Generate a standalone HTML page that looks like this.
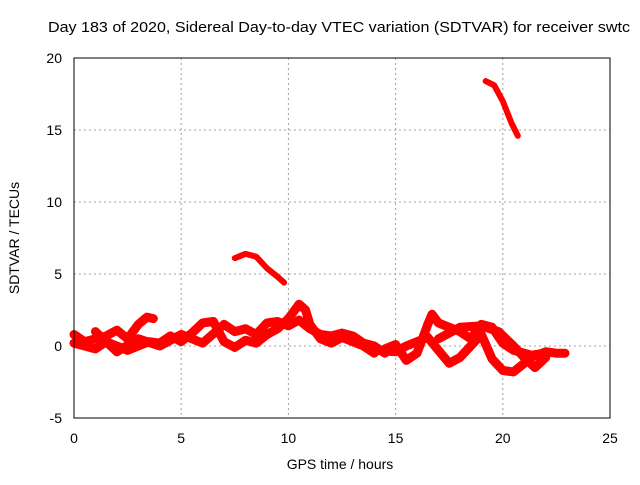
<!DOCTYPE html>
<html><head><meta charset="utf-8"><style>
html,body{margin:0;padding:0;background:#fff}
svg text{font-family:"Liberation Sans",sans-serif;font-size:14px;fill:#000}
</style></head><body>
<svg id="chart" width="640" height="480" viewBox="0 0 640 480" xmlns="http://www.w3.org/2000/svg">
<text x="48" y="32" style="font-size:15px" textLength="582" lengthAdjust="spacingAndGlyphs">Day 183 of 2020, Sidereal Day-to-day VTEC variation (SDTVAR) for receiver swtc</text>
<g id="grid"></g>
<g id="ticks"></g>
<g id="series"></g>
<rect x="74" y="58" width="536" height="360" fill="none" stroke="#000" stroke-width="1"/>
<text x="340" y="469" text-anchor="middle">GPS time / hours</text>
<text transform="translate(19,238) rotate(-90)" text-anchor="middle">SDTVAR / TECUs</text>
</svg>
<script>
const xTicks=[0,5,10,15,20,25];
const yTicks=[-5,0,5,10,15,20];
const series1=[[0,0.8],[0.5,0.3],[1,0.5],[1.5,0.7],[2,1.1],[2.5,0.5],[3,1.5],[3.4,2.0],[3.7,1.9]];
const series2=[[0,0.2],[0.5,0],[1,-0.2],[1.5,0.3],[2,0],[2.5,-0.3],[3,0],[3.5,0.3],[4,0.2],[4.5,0.7],[5,0.3],[5.5,0.9],[6,1.6],[6.5,1.7],[7,0.3],[7.5,-0.1],[8,0.4],[8.5,0.2],[9,0.8],[9.5,1.2],[10,1.9],[10.5,2.9],[10.8,2.5],[11,1.5],[11.5,0.5],[12,0.2],[12.5,0.6],[13,0.3],[13.5,0.0],[14,-0.5]];
const series3=[[1,1],[2,-0.4],[3,0.5],[4,0],[5,0.8],[6,0.2],[7,1.5],[7.5,1.0],[8,1.2],[8.5,0.8],[9,1.6],[9.5,1.7],[10,1.4],[10.5,1.8],[11,1.2],[11.5,0.8],[12,0.7],[12.5,0.9],[13,0.7],[13.5,0.2],[14,0],[14.5,-0.5]];
const series4=[[14.5,-0.2],[15,0.1],[15.5,-1.0],[16,-0.5],[16.5,1.5],[16.7,2.2],[17,1.6],[17.5,1.3],[18,1.0],[18.5,0.5],[19,1.5],[19.5,1.3],[20,0.2],[20.5,-0.3],[21,-0.5],[21.5,-0.7],[22,-0.4],[22.5,-0.5],[22.9,-0.5]];
const series5=[[14,-0.3],[15,-0.4],[15.5,0],[16,0.3],[16.5,0.6],[17,-0.3],[17.5,-1.2],[18,-0.8],[18.5,0],[19,0.8],[19.5,-0.9],[20,-1.7],[20.5,-1.8],[21,-1.2],[21.5,-0.6],[22,-0.5]];
const series6=[[17,0.5],[18,1.3],[19,1.4],[19.8,1],[20.5,0],[21,-0.8],[21.5,-1.5],[22,-0.8]];
const series7=[[7.5,6.1],[8,6.4],[8.5,6.2],[9,5.4],[9.5,4.8],[9.8,4.4]];
const series8=[[19.2,18.4],[19.6,18.1],[20,17],[20.4,15.5],[20.7,14.6]];
const allSeries=[series1,series2,series3,series4,series5,series6,series7,series8];
const X=v=>74+v*536/25, Y=v=>418-(v+5)*360/25;
const NS='http://www.w3.org/2000/svg';
const grid=document.getElementById('grid'),ticks=document.getElementById('ticks'),ser=document.getElementById('series');
function mk(t,a,p){const e=document.createElementNS(NS,t);for(const k in a)e.setAttribute(k,a[k]);p.appendChild(e);return e;}
xTicks.forEach(t=>{const x=X(t);
 if(t>0&&t<25){const g=mk('line',{x1:x,x2:x,y1:58,y2:418,stroke:'#a0a0a0','stroke-dasharray':'2,3'},grid);
 
 }
 const l=mk('text',{x:x,y:443,'text-anchor':'middle'},ticks);l.textContent=t;
 
 });
yTicks.forEach(t=>{const y=Y(t);
 if(t>-5&&t<20){const g=mk('line',{x1:74,x2:610,y1:y,y2:y,stroke:'#a0a0a0','stroke-dasharray':'2,3'},grid);
 
 }
 const l=mk('text',{x:62,y:y+5,'text-anchor':'end'},ticks);l.textContent=t;
 
 });
allSeries.forEach((s,i)=>{
 const w=i<6?9:6;
 const p=mk('polyline',{points:s.map(d=>X(d[0])+','+Y(d[1])).join(' '),fill:'none',stroke:'#ff0000','stroke-width':w,'stroke-linejoin':'round','stroke-linecap':'round'},ser);
 
 
});
</script>
</body></html>
